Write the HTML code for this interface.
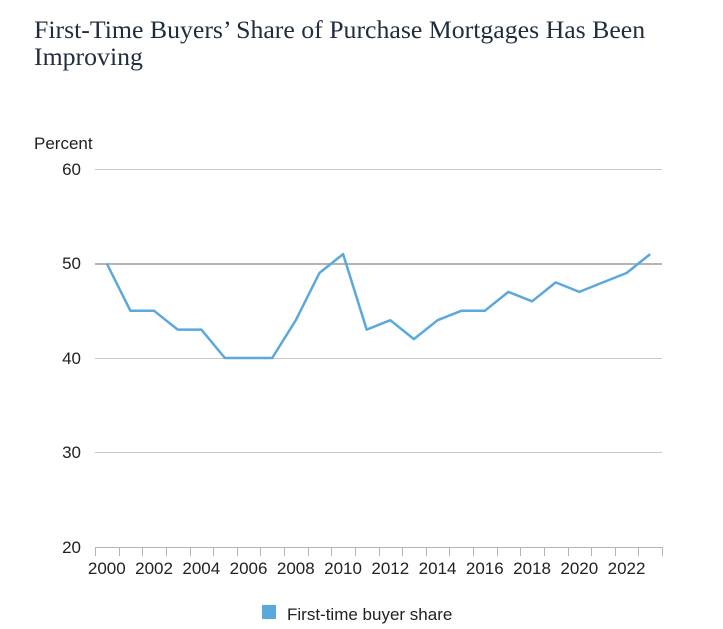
<!DOCTYPE html>
<html><head><meta charset="utf-8"><style>
body{margin:0;background:#fff;width:723px;height:624px;overflow:hidden}
</style></head><body>
<svg width="723" height="624" xmlns="http://www.w3.org/2000/svg">
<text x="34" y="38" font-family="Liberation Serif,serif" font-size="25.8" fill="#1f2d3d">First-Time Buyers’ Share of Purchase Mortgages Has Been</text>
<text x="34" y="65" font-family="Liberation Serif,serif" font-size="25.8" fill="#1f2d3d">Improving</text>
<g font-family="Liberation Sans,sans-serif" font-size="17" fill="#222">
<text x="34" y="149">Percent</text>
<text x="81" y="175" text-anchor="end">60</text>
<text x="81" y="269" text-anchor="end">50</text>
<text x="81" y="364" text-anchor="end">40</text>
<text x="81" y="458" text-anchor="end">30</text>
<text x="81" y="553" text-anchor="end">20</text>
</g>
<g stroke="#c8c8c8" stroke-width="1">
<line x1="95" x2="662" y1="169.5" y2="169.5"/>
<line x1="95" x2="662" y1="358.5" y2="358.5"/>
<line x1="95" x2="662" y1="452.5" y2="452.5"/>
</g>
<line x1="95" x2="662" y1="264" y2="264" stroke="#b4b4b4" stroke-width="2"/>
<line x1="95" x2="662" y1="547.5" y2="547.5" stroke="#b4b4b4" stroke-width="1"/>
<g id="ticks" stroke="#b4b4b4"></g>
<g id="xl" font-family="Liberation Sans,sans-serif" font-size="17" fill="#222"></g>
<polyline id="ln" fill="none" stroke="#5aa9dc" stroke-width="2.5" stroke-linejoin="round"/>
<rect x="262" y="605" width="14" height="14" fill="#5aa9dc"/>
<text x="287" y="620" font-family="Liberation Sans,sans-serif" font-size="17" fill="#222">First-time buyer share</text>
</svg>
<script>
var d=[50,45,45,43,43,40,40,40,44,49,51,43,44,42,44,45,45,47,46,48,47,48,49,51];
var ns="http://www.w3.org/2000/svg",w=567/24,pts=[];
function X(i){return 95+w*(i+0.5)}function Y(v){return 547+(20-v)*9.45}
d.forEach(function(v,i){pts.push(X(i).toFixed(1)+","+Y(v).toFixed(1))});
document.getElementById("ln").setAttribute("points",pts.join(" "));
var t=document.getElementById("ticks"),xl=document.getElementById("xl");
for(var i=0;i<=24;i++){var l=document.createElementNS(ns,"line");var x=Math.round(95+w*i)+0.5;l.setAttribute("x1",x);l.setAttribute("x2",x);l.setAttribute("y1",547);l.setAttribute("y2",556);t.appendChild(l);}
for(var i=0;i<24;i+=2){var tx=document.createElementNS(ns,"text");tx.setAttribute("x",X(i));tx.setAttribute("y",574);tx.setAttribute("text-anchor","middle");tx.textContent=2000+i;xl.appendChild(tx);}
</script>
</body></html>
